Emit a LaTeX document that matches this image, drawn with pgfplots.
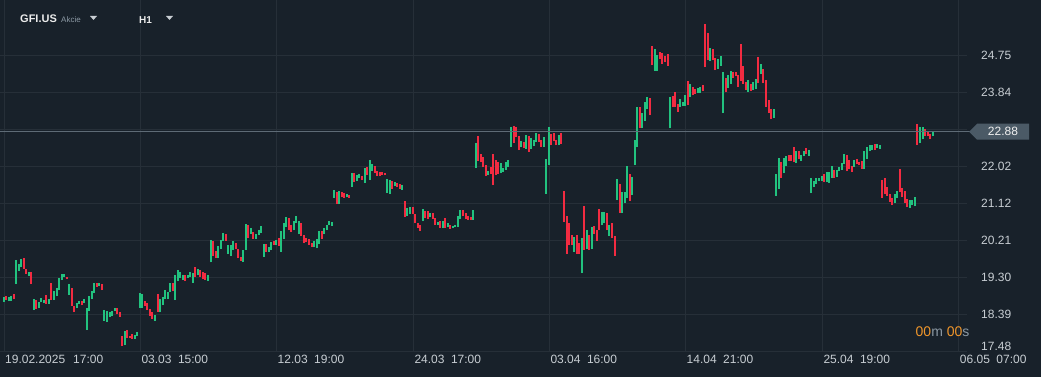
\documentclass[border=0pt]{standalone}
\usepackage{pgfplots}
\pgfplotsset{compat=1.18}
\usepackage{pgfplotstable}
\usepackage{fontspec}
\setmainfont{Liberation Sans}
\definecolor{bgc}{HTML}{18212A}
\definecolor{gridc}{HTML}{262F38}
\definecolor{textc}{HTML}{C8CED3}
\definecolor{cgreen}{HTML}{22C27F}
\definecolor{cred}{HTML}{F22B41}
\definecolor{tagc}{HTML}{4B5A66}
\definecolor{pricec}{HTML}{5E6B76}
\definecolor{orangec}{HTML}{F0962A}
\definecolor{grayc}{HTML}{8C99A4}

\pgfplotstableread{
x lo hi
4.3 18.69 18.81
9.3 18.71 18.81
11.3 18.71 18.84
16.3 19.13 19.72
19 19.46 19.63
21.3 19.54 19.75
29.3 19.33 19.43
34.3 18.49 18.76
39.3 18.54 18.69
41.3 18.68 18.79
44.3 18.66 18.74
49.3 18.64 18.75
54.3 18.74 18.96
57.3 18.84 19.03
59.3 18.98 19.29
62.3 19.23 19.38
64.3 19.31 19.38
69.3 18.86 19.13
77.3 18.54 18.66
79.3 18.64 18.71
84.3 18.66 18.76
87.3 18.00 18.54
89.3 18.46 18.84
92.3 18.76 18.96
94.3 18.91 19.16
99.3 19.08 19.16
104.3 18.22 18.49
107.3 18.19 18.46
110.3 18.32 18.44
112.3 18.34 18.46
115.3 18.46 18.54
125.3 17.63 17.97
135.3 17.78 17.87
137.3 17.85 17.95
140.3 18.54 18.91
142.3 18.54 18.88
155.3 18.22 18.37
160.3 18.44 18.76
163.3 18.61 18.81
165.3 18.76 18.98
168.3 18.76 18.93
170.3 18.93 19.16
175.3 18.74 19.35
178.3 19.20 19.48
180.3 19.28 19.43
183.3 19.23 19.35
188.3 19.28 19.35
190.3 19.30 19.43
193.3 19.16 19.40
198.3 19.35 19.50
208.3 19.20 19.35
211.3 19.66 20.21
218.3 19.77 20.07
221.3 19.99 20.21
223.3 20.19 20.39
228.3 19.87 20.09
231.3 19.82 20.09
233.3 19.97 20.19
243.3 19.67 19.97
246.3 19.97 20.61
251.3 20.36 20.51
256.3 20.24 20.36
259.3 20.34 20.46
261.3 20.39 20.56
264.3 19.80 20.12
269.3 19.92 20.04
271.3 19.97 20.16
276.3 20.09 20.21
281.3 19.92 20.44
284.3 20.24 20.63
286.3 20.53 20.78
294.3 20.46 20.68
296.3 20.63 20.80
299.3 20.36 20.68
314.3 20.04 20.19
317.3 20.02 20.24
319.3 20.12 20.44
324.3 20.36 20.51
327.3 20.46 20.58
329.3 20.58 20.68
332.3 20.56 20.66
334.3 21.25 21.45
339.3 21.10 21.42
347.3 21.27 21.35
352.3 21.52 21.86
357.3 21.67 21.81
359.3 21.74 21.84
365.3 21.62 21.99
370.3 21.69 22.18
372.3 21.91 22.09
387.3 21.37 21.72
390.3 21.35 21.69
395.3 21.54 21.64
402.3 21.45 21.57
407.3 20.80 21.00
410.3 20.85 21.03
423.3 20.68 20.98
430.3 20.78 20.88
438.3 20.58 20.66
443.3 20.51 20.68
448.3 20.53 20.63
453.3 20.51 20.56
455.3 20.53 20.58
458.3 20.53 20.80
460.3 20.73 20.95
473.3 20.71 20.95
476.3 21.99 22.60
488.3 21.81 21.91
501.3 21.86 22.11
503.3 21.89 21.99
506.3 21.94 22.14
508.3 22.01 22.18
511.3 22.50 23.00
521.3 22.50 22.65
526.3 22.46 22.80
531.3 22.46 22.73
534.3 22.53 22.68
536.3 22.63 22.85
544.3 22.50 22.75
546.3 21.35 22.21
549.3 22.06 23.00
559.3 22.55 22.80
574.3 19.92 20.29
582.3 19.40 20.26
587.3 19.99 20.46
592.3 19.99 20.53
602.3 20.58 20.90
604.3 20.63 20.90
609.3 20.31 20.58
617.3 21.20 21.72
622.3 20.88 21.40
625.3 21.12 21.40
627.3 21.25 22.04
632.3 21.32 21.77
635.3 22.06 22.68
637.3 22.50 23.49
642.3 22.97 23.34
645.3 23.15 23.61
647.3 23.44 23.73
655.3 24.38 24.92
657.3 24.38 24.77
670.3 22.97 23.73
680.3 23.49 23.69
683.3 23.51 23.61
685.3 23.51 23.78
690.3 23.73 24.06
698.3 23.83 23.96
700.3 23.83 23.98
710.3 24.62 24.94
718.3 24.43 24.67
721.3 24.50 24.75
723.3 23.34 24.35
728.3 23.96 24.28
731.3 24.06 24.38
748.3 23.86 24.16
753.3 23.91 24.11
756.3 23.93 24.18
761.3 24.30 24.55
774.3 23.22 23.44
776.3 21.30 21.84
779.3 21.47 22.23
784.3 21.86 22.23
786.3 22.04 22.28
796.3 22.11 22.41
801.3 22.16 22.31
804.3 22.28 22.41
809.3 22.28 22.43
811.3 21.37 21.74
814.3 21.52 21.67
816.3 21.59 21.74
819.3 21.67 21.74
822.3 21.67 21.79
827.3 21.64 21.89
829.3 21.62 21.89
832.3 21.74 22.04
837.3 21.77 21.94
839.3 21.91 22.01
842.3 21.94 22.11
844.3 22.09 22.33
854.3 22.01 22.18
864.3 21.96 22.41
867.3 22.21 22.50
870.3 22.41 22.55
872.3 22.43 22.55
877.3 22.48 22.58
880.3 22.46 22.55
895.3 21.12 21.35
897.3 21.25 21.42
910.3 21.00 21.20
912.3 21.08 21.20
915.3 21.05 21.27
920.3 22.60 23.00
923.3 22.70 23.00
933.3 22.77 22.87
}\greendata

\pgfplotstableread{
x lo hi
6.3 18.74 18.84
14.3 18.76 18.89
24 19.50 19.77
26.3 19.38 19.50
31.3 19.13 19.43
36.3 18.51 18.74
46.3 18.64 18.85
51.3 18.74 19.16
67.3 19.25 19.30
72.3 18.59 19.03
74.3 18.44 18.59
82.3 18.61 18.71
97.3 19.06 19.16
102.3 18.98 19.13
117.3 18.39 18.54
120.3 18.32 18.44
122.3 17.60 17.85
127.3 17.80 18.00
130.3 17.80 17.85
132.3 17.78 17.90
145.3 18.59 18.71
147.3 18.49 18.66
150.3 18.34 18.51
152.3 18.27 18.44
158.3 18.44 18.88
173.3 18.96 19.16
185.3 19.20 19.35
195.3 19.30 19.55
200.3 19.30 19.48
203.3 19.25 19.43
205.3 19.23 19.40
213.3 19.82 20.19
216.3 19.77 19.94
226.3 20.19 20.36
236.3 19.99 20.14
238.3 19.77 19.99
241.3 19.70 19.80
248.3 20.26 20.58
253.3 20.24 20.41
266.3 19.92 20.12
274.3 20.09 20.19
279.3 20.07 20.26
289.3 20.46 20.76
291.3 20.41 20.58
301.3 20.31 20.63
304.3 20.14 20.34
306.3 20.16 20.26
309.3 20.09 20.24
312.3 20.04 20.14
322.3 20.24 20.44
337.3 21.10 21.40
342.3 21.27 21.40
344.3 21.25 21.37
349.3 21.25 21.32
354.3 21.64 21.86
362.3 21.69 21.79
367.3 21.81 22.01
375.3 21.86 22.04
377.3 21.79 21.91
380.3 21.79 21.89
382.3 21.81 21.89
385.3 21.81 21.86
392.3 21.47 21.67
397.3 21.52 21.62
400.3 21.47 21.59
405.3 20.78 21.17
413.3 20.85 21.03
415.3 20.63 20.85
418.3 20.51 20.63
420.3 20.44 20.58
425.3 20.76 20.93
428.3 20.73 20.93
433.3 20.73 20.88
435.3 20.58 20.76
440.3 20.51 20.68
445.3 20.51 20.76
450.3 20.49 20.58
463.3 20.80 20.95
466.3 20.73 20.88
468.3 20.71 20.80
471.3 20.71 20.78
478.3 22.16 22.77
481.3 22.14 22.33
483.3 22.01 22.26
486.3 21.79 22.06
491.3 21.84 22.01
493.3 21.57 22.33
496.3 21.81 22.18
498.3 21.84 22.14
514.3 22.60 23.02
516.3 22.75 23.00
519.3 22.43 22.77
524.3 22.48 22.63
529.3 22.38 22.77
539.3 22.63 22.82
541.3 22.50 22.68
551.3 22.55 22.82
554.3 22.65 22.85
556.3 22.55 22.68
561.3 22.58 22.85
564.3 20.66 21.42
567.3 19.87 20.80
569.3 20.09 20.63
572.3 20.09 20.34
577.3 19.87 20.34
579.3 19.87 20.14
584.3 19.97 21.05
589.3 19.97 20.34
594.3 20.36 20.56
597.3 20.19 20.46
599.3 20.46 20.98
607.3 20.46 20.88
612.3 20.26 20.63
615.3 19.82 20.31
620.3 20.88 21.59
630.3 21.17 21.84
640.3 22.97 23.49
650.3 23.29 23.71
652.3 24.52 24.99
660.3 24.67 24.84
662.3 24.55 24.82
665.3 24.60 24.75
668.3 24.50 24.80
673.3 23.49 23.76
675.3 23.49 23.86
678.3 23.37 23.56
688.3 23.54 24.13
693.3 23.78 23.98
695.3 23.81 23.93
703.3 23.88 24.03
705.3 24.47 25.53
708.3 24.65 25.31
713.3 24.65 24.92
715.3 24.40 24.70
726.3 23.86 24.20
733.3 24.20 24.35
736.3 24.25 24.35
738.3 23.98 24.28
741.3 24.13 25.04
743.3 24.06 24.50
746.3 23.91 24.11
751.3 23.88 24.06
758.3 24.08 24.72
763.3 24.08 24.43
766.3 23.49 24.16
769.3 23.34 23.66
771.3 23.19 23.44
781.3 21.74 22.14
789.3 22.16 22.31
791.3 22.16 22.31
794.3 22.14 22.50
799.3 22.21 22.41
806.3 22.33 22.48
824.3 21.64 21.84
834.3 21.74 21.94
847.3 21.91 22.31
849.3 21.96 22.18
852.3 21.89 22.04
857.3 22.09 22.21
859.3 22.06 22.14
862.3 21.96 22.16
875.3 22.43 22.58
882.3 21.25 21.69
885.3 21.35 21.74
887.3 21.30 21.52
890.3 21.15 21.35
892.3 21.08 21.25
900.3 21.40 21.96
902.3 21.27 21.49
905.3 21.12 21.42
907.3 21.03 21.22
917.3 22.55 23.07
925.3 22.77 22.95
928.3 22.77 22.87
930.3 22.70 22.82
}\reddata

\begin{document}
\begin{tikzpicture}
\fill[bgc] (0pt,0pt) rectangle (1041pt,377pt);
\begin{axis}[
  at={(0pt,26pt)}, anchor=south west,
  scale only axis, width=967pt, height=351pt,
  xmin=0, xmax=967, ymin=17.48, ymax=26.125,
  clip=false,
  axis line style={draw=none},
  major tick length=0pt, tick style={draw=none},
  grid=major,
  grid style={draw=gridc, line width=0.8pt},
  xtick={4,140.3,276.5,413.3,549.3,685.5,822.3,958.7},
  xticklabels={19.02.2025\hspace{8pt}17:00, 03.03\hspace{6.5pt}15:00, 12.03\hspace{6.5pt}19:00, 24.03\hspace{6.5pt}17:00, 03.04\hspace{6.5pt}16:00, 14.04\hspace{6.5pt}21:00, 25.04\hspace{6.5pt}19:00, 06.05\hspace{6.5pt}07:00},
  xticklabel style={anchor=north west, inner sep=0pt, yshift=-4pt, xshift=1pt, font=\fontsize{12}{14}\selectfont, text=textc},
  ytick={18.39,19.30,20.21,21.12,22.02,22.93,23.84,24.75},
  yticklabels={18.39,19.30,20.21,21.12,22.02,,23.84,24.75},
  extra y ticks={17.48},
  extra y tick labels={17.48},
  extra y tick style={yticklabel style={yshift=5pt}},
  yticklabel pos=right,
  yticklabel style={anchor=west, inner sep=0pt, xshift=14pt, font=\fontsize{12}{14}\selectfont, text=textc},
  /pgf/number format/assume math mode=true,
]
\addplot[draw=none, mark=none, forget plot,
  error bars/.cd, y dir=plus, y explicit, error mark=none,
  error bar style={line width=1.8pt, draw=cgreen, solid}]
  table[x=x, y=lo, y error plus expr=\thisrow{hi}-\thisrow{lo}] {\greendata};
\addplot[draw=none, mark=none, forget plot,
  error bars/.cd, y dir=plus, y explicit, error mark=none,
  error bar style={line width=1.8pt, draw=cred, solid}]
  table[x=x, y=lo, y error plus expr=\thisrow{hi}-\thisrow{lo}] {\reddata};
\addplot[pricec, line width=1pt, mark=none, forget plot] coordinates {(0,22.88) (970,22.88)};
\fill[tagc] (axis cs:969,22.88) -- (axis cs:977,23.077) -- (axis cs:1029,23.077) -- (axis cs:1029,22.683) -- (axis cs:977,22.683) -- cycle;
\node[text=white!88!gray, font=\fontsize{12}{14}\selectfont, inner sep=0pt] at (axis cs:1003,22.88) {22.88};
\end{axis}
% header
\node[anchor=base west, inner sep=0pt, text=white!85!gray, font=\fontsize{11}{13}\selectfont\bfseries] at (20pt,354.5pt) {GFI.US};
\node[anchor=base west, inner sep=0pt, text=grayc, font=\fontsize{8}{10}\selectfont] at (61pt,354.5pt) {Akcie};
\fill[textc] (90pt,361pt) -- (97pt,361pt) -- (93.5pt,357pt) -- cycle;
\node[anchor=base west, inner sep=0pt, text=white!85!gray, font=\fontsize{10}{12}\selectfont\bfseries] at (139pt,353.5pt) {H1};
\fill[textc] (166pt,361pt) -- (173pt,361pt) -- (169.5pt,357pt) -- cycle;
% timer
\node[anchor=base west, inner sep=0pt, font=\fontsize{14}{16}\selectfont] at (915.5pt,40pt) {\textcolor{orangec}{00}\textcolor{grayc}{m} \textcolor{orangec}{00}\textcolor{grayc}{s}};
\pgfresetboundingbox
\path[use as bounding box] (0pt,0pt) rectangle (1041pt,377pt);
\end{tikzpicture}
\end{document}
